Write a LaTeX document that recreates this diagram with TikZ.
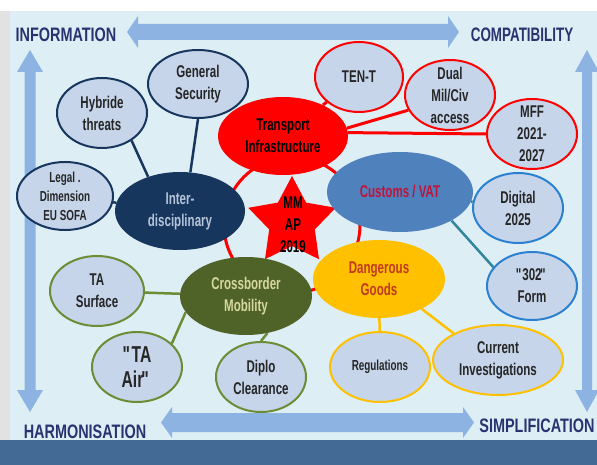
\documentclass[tikz,border=0pt]{standalone}
\usepackage{fontspec}
\setmainfont{Liberation Sans}[FakeStretch=0.82]
\newfontfamily\nodefont{Liberation Sans}[FakeStretch=0.68]
\newfontfamily\labelfont{Liberation Sans}[FakeStretch=0.74]
\usetikzlibrary{shapes.geometric}
\pgfdeclarelayer{bg}
\pgfdeclarelayer{edges}
\pgfsetlayers{bg,edges,main}
\definecolor{bgblue}{HTML}{DDEEF4}
\definecolor{graystrip}{HTML}{E2E2E2}
\definecolor{barblue}{HTML}{436A94}
\definecolor{arrowblue}{HTML}{8DB3E2}
\definecolor{labelcol}{HTML}{2B3270}
\definecolor{smallfill}{HTML}{C6D5EA}
\definecolor{navy}{HTML}{17365D}
\definecolor{navytext}{HTML}{B4C3D8}
\definecolor{olive}{HTML}{4F6228}
\definecolor{olivetext}{HTML}{D6D89E}
\definecolor{olivebd}{HTML}{6E8B35}
\definecolor{custblue}{HTML}{4F81BD}
\definecolor{custtext}{HTML}{C0143C}
\definecolor{digbd}{HTML}{2B80D0}
\definecolor{tealline}{HTML}{31859C}
\definecolor{amber}{HTML}{FFC000}
\definecolor{dangtext}{HTML}{C23A1E}
\newcommand\qd{\textquotedbl}
\tikzset{
  lbl/.style={font=\labelfont\fontsize{19.5}{22}\selectfont\bfseries, text=labelcol, inner sep=0pt},
  ell/.style={ellipse, inner sep=-10pt, align=center},
  sz/.style 2 args={minimum width=#1pt, minimum height=#2pt},
  nf/.style={font=\nodefont\fontsize{17}{22}\selectfont\bfseries},
  nfs/.style={font=\nodefont\fontsize{14.5}{19}\selectfont\bfseries},
  sm/.style={ell, fill=smallfill, line width=2pt, text=black!85, nf},
  big/.style={ell, nf},
  redline/.style={red, line width=3pt},
  navyline/.style={navy, line width=2.5pt},
  tline/.style={tealline, line width=2.5pt},
  aline/.style={amber, line width=2.5pt},
  oline/.style={olivebd, line width=2.5pt},
}
\begin{document}
\begin{tikzpicture}[x=1pt,y=-1pt]
\useasboundingbox (0,0) rectangle (597,465);
\begin{pgfonlayer}{bg}
  \fill[white] (0,0) rectangle (597,465);
  \fill[graystrip] (0,11) rectangle (10,440);
  \fill[bgblue] (10,11) rectangle (597,440);
  % arrows
  \fill[arrowblue] (127,32) -- (138,16) -- (138,24) -- (448,24) -- (448,16) -- (459,32)
     -- (448,48) -- (448,40) -- (138,40) -- (138,48) -- cycle;
  \fill[arrowblue] (30,50) -- (43,72) -- (35.5,72) -- (35.5,390) -- (43,390) -- (30,412)
     -- (17,390) -- (24.5,390) -- (24.5,72) -- (17,72) -- cycle;
  \fill[arrowblue] (161,422.5) -- (172,407) -- (172,413) -- (463,413) -- (463,407) -- (474,422.5)
     -- (463,438) -- (463,432) -- (172,432) -- (172,438) -- cycle;
  \fill[arrowblue] (587,50) -- (599,72) -- (592,72) -- (592,390) -- (599,390) -- (587,412)
     -- (575,390) -- (582,390) -- (582,72) -- (575,72) -- cycle;
  % labels
  \node[lbl] (info) at (66,35) {INFORMATION};
  \node[lbl] (compat) at (522,35) {\scalebox{0.93}[1]{COMPATIBILITY}};
  \node[lbl] (harmon) at (85,432) {HARMONISATION};
  \node[lbl] (simpl) at (537,426) {SIMPLIFICATION};
  \fill[barblue] (0,440) rectangle (597,465);
\end{pgfonlayer}

% star
\fill[red] (292,176) -- (306.1,202.6) -- (335.75,207.8) -- (314.8,229.4) -- (319,259.2)
  -- (292,246) -- (265,259.2) -- (269.2,229.4) -- (248.25,207.8) -- (277.9,202.6) -- cycle;
\node[nf, align=center, text=black] (mmap) at (293,225) {MM\\AP\\2019};

% nodes
\node[sm, draw=navy, sz={100}{68}] (gen) at (198,84) {General\\Security};
\node[sm, draw=navy, sz={90}{70}] (hyb) at (102,113) {Hybride\\threats};
\node[sm, draw=navy, sz={96}{68}, nfs] (legal) at (65,196) {Legal .\\Dimension\\EU SOFA};
\node[big, fill=navy, text=navytext, sz={130}{78}] (inter) at (180,211) {Inter-\\disciplinary};
\node[big, fill=red, text=black, sz={130}{78}] (trans) at (283,136) {Transport\\Infrastructure};
\node[sm, draw=red, sz={88}{70}] (tent) at (359,77) {TEN-T};
\node[sm, draw=red, sz={90}{70}] (dual) at (450,95) {Dual\\Mil/Civ\\access};
\node[sm, draw=red, sz={90}{70}] (mff) at (532,134) {MFF\\2021-\\2027};
\node[big, fill=custblue, text=custtext, sz={146}{80}] (cust) at (400,192) {Customs / VAT};
\node[sm, draw=digbd, sz={90}{70}] (dig) at (518,208) {Digital\\2025};
\node[sm, draw=digbd, sz={90}{68}] (form) at (532,286) {\qd\kern-1.5pt 302\kern-1.5pt\qd\\Form};
\node[big, fill=amber, text=dangtext, sz={132}{78}] (dang) at (379,279) {Dangerous\\Goods};
\node[sm, draw=amber, sz={100}{70}, nfs] (reg) at (380,367) {Regulations};
\node[sm, draw=amber, sz={130}{70}] (curr) at (498,360) {Current\\Investigations};
\node[big, fill=olive, text=olivetext, sz={132}{78}] (cross) at (246,296) {Crossborder\\Mobility};
\node[sm, draw=olivebd, sz={94}{70}] (tasurf) at (97,291) {TA\\Surface};
\node[sm, draw=olivebd, sz={90}{70}, font=\nodefont\fontsize{23}{25}\selectfont\bfseries] (taair) at (137,367) {\qd\kern-2pt TA\\Air\kern-2pt\qd};
\node[sm, draw=olivebd, sz={90}{70}] (diplo) at (261,377) {Diplo\\Clearance};

% connectors
\begin{pgfonlayer}{edges}
  \draw[redline] (292,225) circle[radius=68pt];
  \draw[redline] (trans) -- (tent);
  \draw[redline] (trans.7) -- (dual.200);
  \draw[redline] (trans.3) -- (mff.west);
  \draw[navyline] (gen.south) -- (inter.75);
  \draw[navyline] (hyb.-43) -- (inter.133);
  \draw[navyline] (legal) -- (inter);
  \draw[tline] (cust) -- (dig);
  \draw[tline] (cust.-29) -- (form.154);
  \draw[aline] (dang) -- (reg);
  \draw[aline] (dang.-35) -- (curr.149);
  \draw[oline] (cross) -- (tasurf);
  \draw[oline] (cross.195) -- (taair.34);
  \draw[oline] (cross.-60) -- (diplo.north);
\end{pgfonlayer}
\end{tikzpicture}
\end{document}
